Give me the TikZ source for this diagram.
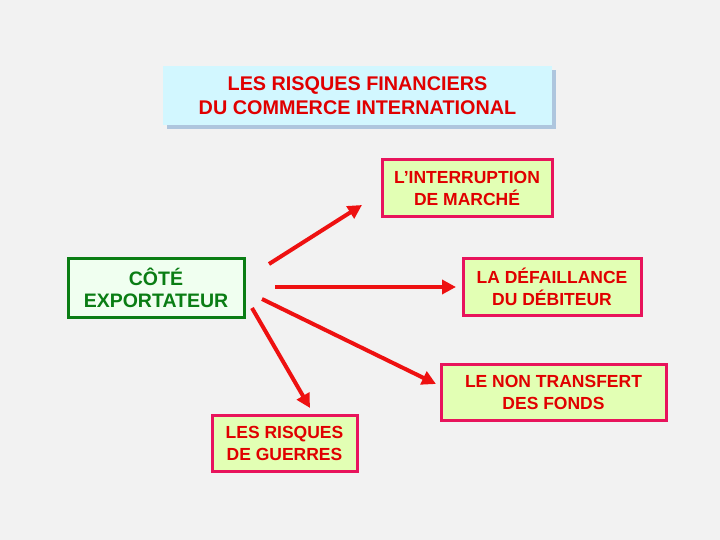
\documentclass[tikz,border=0pt]{standalone}
\usepackage{fontspec}
\setmainfont{Liberation Sans}
\usetikzlibrary{arrows.meta}
\definecolor{bg}{HTML}{F2F2F2}
\definecolor{txtred}{HTML}{E00000}
\definecolor{bordmag}{HTML}{E8145C}
\definecolor{fillgreen}{HTML}{E2FFB4}
\definecolor{titlefill}{HTML}{D2F7FF}
\definecolor{titleshadow}{HTML}{AEC6DE}
\definecolor{darkgreen}{HTML}{0A7D14}
\definecolor{palegreen}{HTML}{F0FFF0}
\definecolor{arrowred}{HTML}{EE1111}
\tikzset{
  riskbox/.style={draw=bordmag, line width=3pt, fill=fillgreen, text=txtred,
    font=\fontsize{17.5}{22}\selectfont\bfseries, align=center, inner sep=0pt},
  arr/.style={draw=arrowred, line width=4pt, -{Triangle[length=14pt,width=14pt]}}
}
\begin{document}
\begin{tikzpicture}[x=1pt,y=-1pt]
\fill[bg] (0,0) rectangle (720,540);
\useasboundingbox (0,0) rectangle (720,540);
% title
\fill[titleshadow] (167,70) rectangle (556,129);
\node[fill=titlefill, minimum width=389pt, minimum height=59pt, inner sep=0pt,
  text=txtred, font=\fontsize{19.8}{24}\selectfont\bfseries, align=center]
  (title) at (357.5,95.5) {LES RISQUES FINANCIERS\\DU COMMERCE INTERNATIONAL};
% boxes
\node[draw=darkgreen, line width=3pt, fill=palegreen, text=darkgreen,
  minimum width=176pt, minimum height=59pt, inner sep=0pt, align=center,
  font=\fontsize{19.5}{22}\selectfont\bfseries] (cote) at (156,287.5) {CÔTÉ\\EXPORTATEUR};
\node[riskbox, minimum width=170pt, minimum height=57pt] (interr) at (467,188.5) {L’INTERRUPTION\\DE MARCHÉ};
\node[riskbox, minimum width=178pt, minimum height=57pt] (defail) at (552,286.5) {LA DÉFAILLANCE\\DU DÉBITEUR};
\node[riskbox, minimum width=225pt, minimum height=56pt] (transf) at (553.5,392) {LE NON TRANSFERT\\DES FONDS};
\node[riskbox, minimum width=145pt, minimum height=56pt] (guerre) at (284.5,443) {LES RISQUES\\DE GUERRES};
% arrow endpoints
\coordinate (a1s) at (269,264);
\coordinate (a1e) at (362,205);
\coordinate (a2s) at (275,287);
\coordinate (a2e) at (456,287);
\coordinate (a3s) at (262,299);
\coordinate (a3e) at (436,384);
\coordinate (a4s) at (252,308);
\coordinate (a4e) at (310,408);
\draw[arr] (a1s) -- (a1e);
\draw[arr] (a2s) -- (a2e);
\draw[arr] (a3s) -- (a3e);
\draw[arr] (a4s) -- (a4e);
\end{tikzpicture}
\end{document}
